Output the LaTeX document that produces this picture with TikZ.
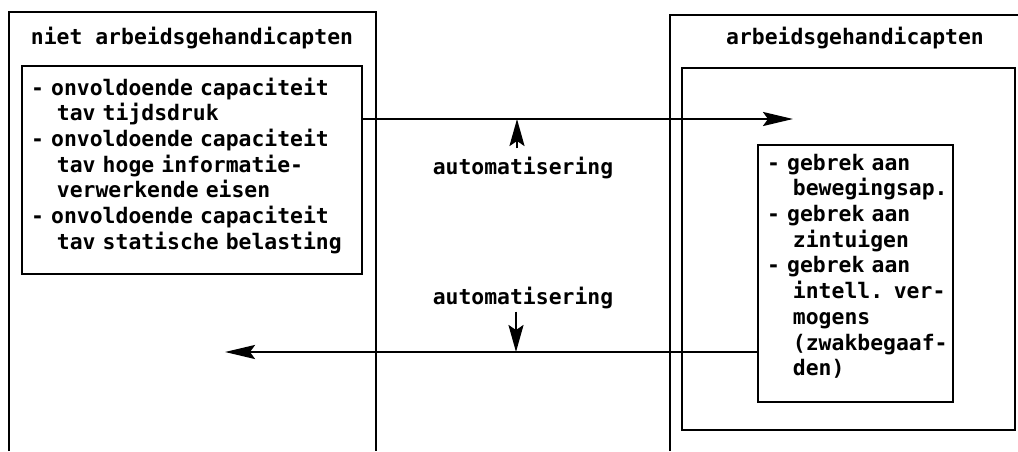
\documentclass[tikz,border=0pt]{standalone}
\usepackage{fontspec}
\newfontfamily\typefont{DejaVu Sans Mono}
\usetikzlibrary{arrows.meta}
% two-character indent for continuation lines
\newcommand\ind{\hphantom{xx}}
% fixed one-cell word space for the monospaced text
\newcommand\cellspace{\spaceskip=\fontcharwd\font`x\relax\xspaceskip=\spaceskip}
\begin{document}
\begin{tikzpicture}[x=1pt,y=-1pt,
  frame/.style={line width=2.6pt},
  box/.style={draw,line width=2.6pt,inner sep=0pt},
  typeset/.style={font=\typefont\bfseries\fontsize{21.4}{25.7}\selectfont\cellspace,inner sep=0pt},
  txt/.style={typeset,align=left,text width=345pt,anchor=north west},
  conn/.style={line width=2.4pt,-{Stealth[length=30pt,width=14pt,inset=5pt]}},
  vconn/.style={line width=2.4pt,-{Stealth[length=27pt,width=15pt,inset=5pt]}},
]
\useasboundingbox (0,0) rectangle (1018,451);

% outer groups, open at the lower edge
\draw[frame] (9,451) -- (9,12) -- (376,12) -- (376,451);
\draw[frame] (670,451) -- (670,15) -- (1018,15);

% titles
\node[typeset,anchor=base] (ltitle) at (192,44) {niet arbeidsgehandicapten};
\node[typeset,anchor=base] (rtitle) at (855,44) {arbeidsgehandicapten};

% left list
\node[box,minimum width=340pt,minimum height=208pt] (lbox) at (192,170) {};
\node[txt] (ltext) at (31,77) {\strut- onvoldoende capaciteit\\
\ind tav tijdsdruk\\
- onvoldoende capaciteit\\
\ind tav hoge informatie-\\
\ind verwerkende eisen\\
- onvoldoende capaciteit\\
\ind tav statische belasting};

% right boxes
\node[box,minimum width=333pt,minimum height=362pt] (rmid) at (848.5,249) {};
\node[box,minimum width=195pt,minimum height=257pt] (rbox) at (855.5,273.5) {};
\node[txt,text width=190pt] (rtext) at (767,152) {\strut- gebrek aan\\
\ind bewegingsap.\\
- gebrek aan\\
\ind zintuigen\\
- gebrek aan\\
\ind intell. ver-\\
\ind mogens\\
\ind (zwakbegaaf-\\
\ind den)};

% labels on the connectors
\node[typeset,anchor=base] (lab1) at (523,174) {automatisering};
\node[typeset,anchor=base] (lab2) at (523,304) {automatisering};

% connectors
\coordinate (t1) at (793,119);
\coordinate (m1) at (517,119);
\coordinate (t2) at (225,352);
\coordinate (m2) at (516,352);
\draw[conn] (lbox.east |- t1) -- (t1);
\draw[conn] (rbox.west |- t2) -- (t2);
\draw[vconn] ([yshift=8pt]lab1.north -| m1) -- (m1);
\draw[vconn] ([yshift=-3pt]lab2.south -| m2) -- (m2);
\end{tikzpicture}
\end{document}
